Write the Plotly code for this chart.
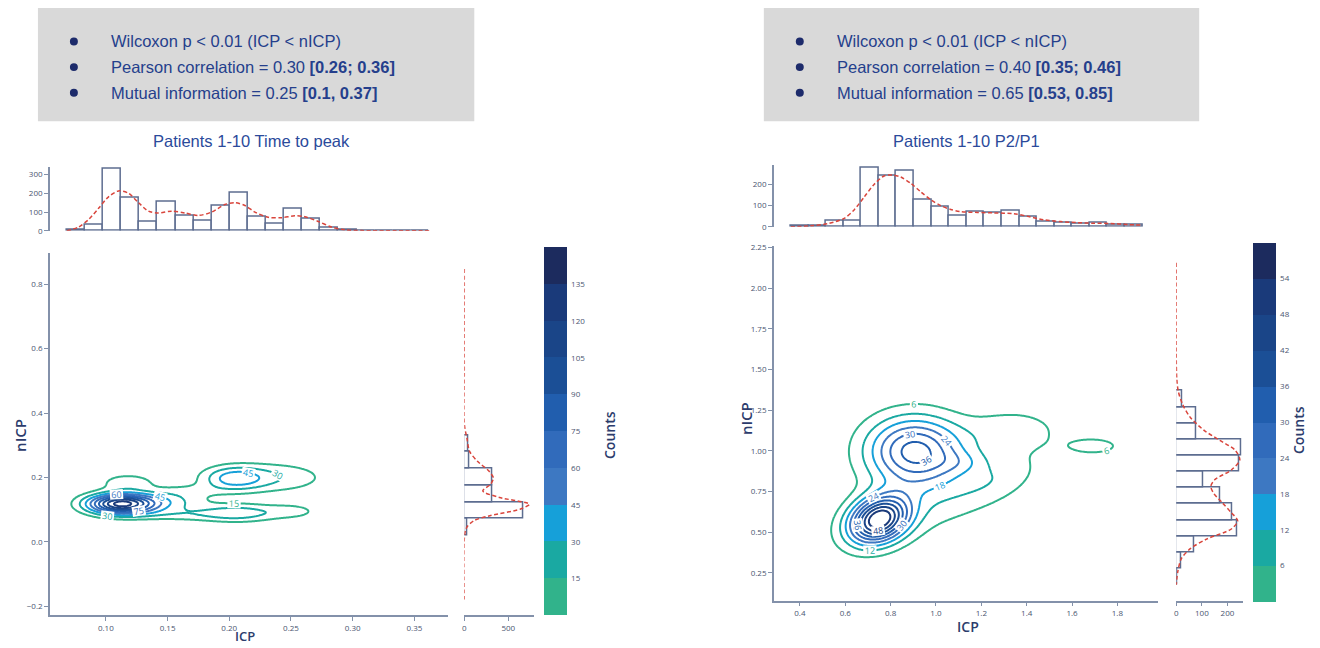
import numpy as np
import plotly.graph_objects as go

W, H = 1320, 648


def pxx(x):
    return x / W


def pxy(y):
    return 1 - y / H


# ---------------- data: left panel (Time to peak) ----------------
L_top_bin_start = 0.0684
L_top_bin_width = 0.01467
L_top_counts = [5, 32, 330, 175, 47, 153, 82, 56, 135, 205, 74, 39, 118, 65, 19, 7, 2, 1, 1, 1]
L_top_kde_x = [0.0684, 0.0779, 0.0860, 0.0941, 0.1020, 0.1103, 0.1184, 0.1265, 0.1345, 0.1426,
               0.1534, 0.1642, 0.1750, 0.1858, 0.1965, 0.2046, 0.2127, 0.2208, 0.2316, 0.2424,
               0.2531, 0.2612, 0.2721, 0.2828, 0.2936, 0.3071, 0.3624]
L_top_kde_y = [0, 20, 60, 120, 180, 213, 200, 150, 105, 95,
               105, 95, 82, 100, 140, 150, 135, 100, 72, 70,
               80, 75, 50, 20, 5, 1, 0]

L_side_bin_start = 0.020
L_side_bin_width = 0.0518
L_side_counts = [38, 674, 322, 322, 57, 49]
L_side_kde_y = [0.847, 0.526, 0.362, 0.322, 0.281, 0.250, 0.220, 0.199, 0.179, 0.158,
                0.138, 0.117, 0.102, 0.082, 0.066, 0.046, 0.025, -0.179]
L_side_kde_x = [0, 0, 2, 30, 60, 150, 280, 330, 300, 210,
                400, 740, 640, 300, 110, 30, 5, 0]

# density blobs
L_blob_cx = [0.112, 0.150, 0.203, 0.240, 0.208, 0.252, 0.118, 0.160, 0.175, 0.165]
L_blob_cy = [0.118, 0.125, 0.197, 0.200, 0.090, 0.095, 0.185, 0.085, 0.290, 0.160]
L_blob_sx = [0.019, 0.022, 0.018, 0.028, 0.022, 0.016, 0.015, 0.030, 0.005, 0.020]
L_blob_sy = [0.022, 0.022, 0.027, 0.033, 0.020, 0.017, 0.018, 0.015, 0.004, 0.015]
L_blob_peak = [136, 30, 46, 26, 36, 18, 26, 18, 16, 12]
L_blob_rho = [0, 0, 0, 0, 0, 0, 0, 0, 0, 0]
L_levels = [15, 30, 45, 60, 75, 90, 105, 120, 135]
L_cbar_ticks = [15, 30, 45, 60, 75, 90, 105, 120, 135]

# ---------------- data: right panel (P2/P1) ----------------
R_top_bin_start = 0.360
R_top_bin_width = 0.0775
R_top_counts = [3, 5, 28, 31, 279, 242, 264, 129, 95, 54, 71, 65, 74, 48, 25, 19, 16, 20, 11, 9]
R_top_kde_x = [0.360, 0.448, 0.522, 0.595, 0.639, 0.683, 0.727, 0.771, 0.808, 0.845,
               0.889, 0.933, 0.977, 1.021, 1.065, 1.109, 1.183, 1.256, 1.344, 1.403,
               1.476, 1.550, 1.623, 1.697, 1.770, 1.844, 1.910]
R_top_kde_y = [0, 5, 15, 40, 80, 140, 200, 240, 245, 235,
               205, 165, 128, 100, 82, 72, 68, 66, 62, 50,
               33, 25, 20, 17, 16, 11, 8]

R_side_bin_start = 0.177
R_side_bin_width = 0.0993
R_side_counts = [5, 18, 71, 239, 217, 171, 104, 247, 252, 78, 78, 22]
R_side_kde_y = [2.156, 1.600, 1.448, 1.367, 1.286, 1.206, 1.125, 1.065, 1.004, 0.944,
                0.883, 0.823, 0.782, 0.742, 0.681, 0.620, 0.570, 0.520, 0.459, 0.399,
                0.338, 0.257, 0.177]
R_side_kde_x = [0, 0, 2, 8, 25, 55, 110, 170, 230, 248,
                215, 150, 135, 145, 180, 215, 240, 215, 120, 55,
                20, 6, 0]

R_blob_cx = [0.748, 0.905, 1.000, 1.340, 1.120, 1.700, 1.280]
R_blob_cy = [0.578, 1.000, 0.700, 1.130, 0.930, 1.030, 0.820]
R_blob_sx = [0.090, 0.150, 0.300, 0.140, 0.080, 0.090, 0.120]
R_blob_sy = [0.100, 0.150, 0.220, 0.090, 0.050, 0.040, 0.100]
R_blob_peak = [55, 38, 8, 9, 5, 8.5, 5]
R_blob_rho = [0.25, 0.0, 0.65, 0.0, 0.0, 0.0, 0.5]
R_levels = [6, 12, 18, 24, 30, 36, 42, 48, 54]
R_cbar_ticks = [6, 12, 18, 24, 30, 36, 42, 48, 54]

# colour bands of the colour bar (bottom -> top)
band_colors = ["#31b38b", "#1aa9a2", "#16a0d9", "#3d78c2", "#316bbb",
               "#215eae", "#1b4f96", "#1a4588", "#1a3a7a", "#1c2b5e"]

# ---------------- styling ----------------
AX_COL = "#8391aa"
TICK_FONT = dict(family="Open Sans", size=8, color="#4a5570")
LABEL_COL = "#2c3c6c"
HIST_LINE = "#5d6d90"
KDE_COL = "#d9453c"
TXT_COL = "#253f8c"


def density(gx, gy, cx, cy, sx, sy, pk, rho):
    X, Y = np.meshgrid(gx, gy)
    Z = np.zeros_like(X)
    for a, b, s1, s2, p, r in zip(cx, cy, sx, sy, pk, rho):
        dx = (X - a) / s1
        dy = (Y - b) / s2
        q = (dx * dx + dy * dy - 2 * r * dx * dy) / (1 - r * r)
        Z += p * np.exp(-0.5 * q)
    return Z


def line_scale(n):
    cols = band_colors[:n]
    return [[i / (n - 1), c] for i, c in enumerate(cols)]


def stepped_scale():
    sc = []
    n = len(band_colors)
    for i, c in enumerate(band_colors):
        sc.append([i / n, c])
        sc.append([(i + 1) / n, c])
    return sc


fig = go.Figure()
KDE_LINE = dict(color=KDE_COL, width=1.5, dash="4px,2.5px", shape="spline", smoothing=0.8)


def add_panel(fig, k, P):
    a, b, c = 3 * k + 1, 3 * k + 2, 3 * k + 3
    xa, ya = ("x", "y") if a == 1 else (f"x{a}", f"y{a}")
    xb, yb = f"x{b}", f"y{b}"
    xc, yc = f"x{c}", f"y{c}"

    gx = np.linspace(P["xr"][0], P["xr"][1], 300)
    gy = np.linspace(P["yr"][0], P["yr"][1], 300)
    Z = density(gx, gy, *P["blobs"])
    lv = P["levels"]
    fig.add_trace(go.Contour(
        x=gx, y=gy, z=Z, xaxis=xa, yaxis=ya,
        contours=dict(start=lv[0], end=lv[-1], size=lv[1] - lv[0], coloring="lines",
                      showlabels=True, labelfont=dict(family="Open Sans", size=9)),
        line=dict(width=2), colorscale=line_scale(len(lv)), showscale=False,
        hoverinfo="skip"))

    tc = P["top_counts"]
    centers = [P["top_start"] + (i + 0.5) * P["top_w"] for i in range(len(tc))]
    fig.add_trace(go.Bar(x=centers, y=tc, width=P["top_w"], xaxis=xb, yaxis=yb,
                         marker=dict(color="white", line=dict(color=HIST_LINE, width=1.5))))
    fig.add_trace(go.Scatter(x=P["top_kx"], y=P["top_ky"], xaxis=xb, yaxis=yb, mode="lines",
                             line=KDE_LINE))
    sc = P["side_counts"]
    scent = [P["side_start"] + (i + 0.5) * P["side_w"] for i in range(len(sc))]
    fig.add_trace(go.Bar(y=scent, x=sc, width=P["side_w"], orientation="h", xaxis=xc, yaxis=yc,
                         marker=dict(color="white", line=dict(color=HIST_LINE, width=1.5))))
    fig.add_trace(go.Scatter(x=P["side_kx"], y=P["side_ky"], xaxis=xc, yaxis=yc, mode="lines",
                             line=KDE_LINE))
    fig.add_trace(go.Scatter(
        x=[None], y=[None], xaxis=xa, yaxis=ya, mode="markers",
        marker=dict(color=[0], cmin=0, cmax=P["cmax"], colorscale=stepped_scale(), showscale=True,
                    colorbar=dict(x=pxx(P["cb_x"]), xanchor="left", y=pxy(P["cb_y1"]), yanchor="bottom",
                                  len=P["cb_y1"] - P["cb_y0"], lenmode="pixels",
                                  thickness=23, thicknessmode="pixels", outlinewidth=0,
                                  xpad=0, ypad=0, tickvals=P["cb_ticks"], ticks="outside",
                                  ticklen=3, tickcolor="rgba(0,0,0,0)",
                                  tickfont=dict(family="Open Sans", size=8, color="#4a5570"))),
        hoverinfo="skip"))

    common = dict(showgrid=False, zeroline=False, linecolor=AX_COL, linewidth=1.5,
                  ticks="outside", ticklen=4, tickcolor=AX_COL, tickfont=TICK_FONT)
    main_xdom = [pxx(P["mx0"]), pxx(P["mx1"])]
    main_ydom = [pxy(P["my1"]), pxy(P["my0"])]
    side_xdom = [pxx(P["sx0"]), pxx(P["sx1"])]
    top_ydom = [pxy(P["ty1"]), pxy(P["ty0"])]
    fig.layout[("xaxis" if a == 1 else f"xaxis{a}")] = dict(
        domain=main_xdom, range=P["xr"], anchor=ya, showline=True, tickvals=P["xticks"],
        tickformat=P["xfmt"], **common)
    fig.layout[("yaxis" if a == 1 else f"yaxis{a}")] = dict(
        domain=main_ydom, range=P["yr"], anchor=xa, showline=True, tickvals=P["yticks"],
        tickformat=P["yfmt"], **common)
    fig.layout[f"xaxis{b}"] = dict(domain=main_xdom, range=P["xr"], anchor=yb, visible=False)
    fig.layout[f"yaxis{b}"] = dict(domain=top_ydom, range=[0, P["top_max"]], anchor=xb, showline=True,
                                   tickvals=P["top_ticks"], **common)
    fig.layout[f"xaxis{c}"] = dict(domain=side_xdom, range=[0, P["side_max"]], anchor=yc, showline=True,
                                   tickvals=P["side_ticks"], **common)
    fig.layout[f"yaxis{c}"] = dict(domain=main_ydom, range=P["yr"], anchor=xc, visible=False)


panels = [
    dict(xr=[0.0547, 0.3775], yr=[-0.228, 0.898], blobs=(L_blob_cx, L_blob_cy, L_blob_sx, L_blob_sy,
                                                        L_blob_peak, L_blob_rho),
         levels=L_levels, top_counts=L_top_counts, top_start=L_top_bin_start, top_w=L_top_bin_width,
         top_kx=L_top_kde_x, top_ky=L_top_kde_y, side_counts=L_side_counts, side_start=L_side_bin_start,
         side_w=L_side_bin_width, side_kx=L_side_kde_x, side_ky=L_side_kde_y, cmax=150,
         cb_x=543, cb_y0=252, cb_y1=620, cb_ticks=L_cbar_ticks,
         mx0=48, mx1=447, my0=252, my1=620, sx0=463, sx1=533, ty0=165, ty1=230,
         xticks=[0.10, 0.15, 0.20, 0.25, 0.30, 0.35], xfmt=".2f",
         yticks=[-0.2, 0.0, 0.2, 0.4, 0.6, 0.8], yfmt=".1f",
         top_max=342, top_ticks=[0, 100, 200, 300], side_max=795, side_ticks=[0, 500]),
    dict(xr=[0.285, 1.98], yr=[0.08, 2.262], blobs=(R_blob_cx, R_blob_cy, R_blob_sx, R_blob_sy,
                                                    R_blob_peak, R_blob_rho),
         levels=R_levels, top_counts=R_top_counts, top_start=R_top_bin_start, top_w=R_top_bin_width,
         top_kx=R_top_kde_x, top_ky=R_top_kde_y, side_counts=R_side_counts, side_start=R_side_bin_start,
         side_w=R_side_bin_width, side_kx=R_side_kde_x, side_ky=R_side_kde_y, cmax=60,
         cb_x=1253, cb_y0=247, cb_y1=606, cb_ticks=R_cbar_ticks,
         mx0=773, mx1=1158, my0=245, my1=605, sx0=1176, sx1=1243, ty0=163, ty1=226,
         xticks=[0.4, 0.6, 0.8, 1.0, 1.2, 1.4, 1.6, 1.8], xfmt=".1f",
         yticks=[0.25, 0.5, 0.75, 1.0, 1.25, 1.5, 1.75, 2.0, 2.25], yfmt=".2f",
         top_max=293, top_ticks=[0, 100, 200], side_max=261, side_ticks=[0, 100, 200]),
]
for k, P in enumerate(panels):
    add_panel(fig, k, P)

# ---------------- header boxes and text ----------------
headers = [
    dict(box=(36, 473), bx=72, tx=107, title_x=250, title="Patients 1-10 Time to peak",
         lines=["Wilcoxon p < 0.01 (ICP < nICP)",
                "Pearson correlation = 0.30 <b>[0.26; 0.36]</b>",
                "Mutual information = 0.25 <b>[0.1, 0.37]</b>"]),
    dict(box=(763, 1199), bx=799, tx=834, title_x=966, title="Patients 1-10 P2/P1",
         lines=["Wilcoxon p < 0.01 (ICP < nICP)",
                "Pearson correlation = 0.40 <b>[0.35; 0.46]</b>",
                "Mutual information = 0.65 <b>[0.53, 0.85]</b>"]),
]
line_y = [38, 64, 90]
annotations = []
shapes = []
for hd in headers:
    shapes.append(dict(type="rect", xref="paper", yref="paper", x0=pxx(hd["box"][0]), x1=pxx(hd["box"][1]),
                       y0=pxy(119), y1=pxy(4), fillcolor="#d9d9d9", line=dict(width=0), layer="below"))
    for t, yy in zip(hd["lines"], line_y):
        shapes.append(dict(type="circle", xref="paper", yref="paper",
                           x0=pxx(hd["bx"] - 4), x1=pxx(hd["bx"] + 4), y0=pxy(yy + 4), y1=pxy(yy - 4),
                           fillcolor="#1d2b6b", line=dict(width=0)))
        annotations.append(dict(xref="paper", yref="paper", x=pxx(hd["tx"]), y=pxy(yy), text=t,
                                showarrow=False, xanchor="left", yanchor="middle",
                                font=dict(family="Liberation Sans", size=16.5, color=TXT_COL)))
    annotations.append(dict(xref="paper", yref="paper", x=pxx(hd["title_x"]), y=pxy(139), text=hd["title"],
                            showarrow=False, xanchor="center", yanchor="middle",
                            font=dict(family="Liberation Sans", size=16.5, color="#2b4a9b")))

# axis titles and colour-bar titles
for (tx, ty, txt, ang, fs) in [(18, 437, "nICP", -90, 15), (243, 641, "ICP", 0, 13),
                               (745, 420, "nICP", -90, 15), (967, 631, "ICP", 0, 14),
                               (609, 437, "Counts", -90, 14), (1298, 432, "Counts", -90, 14)]:
    annotations.append(dict(xref="paper", yref="paper", x=pxx(tx), y=pxy(ty), text=txt, textangle=ang,
                            showarrow=False, xanchor="center", yanchor="middle", borderpad=0,
                            font=dict(family="Open Sans", size=fs, color=LABEL_COL, weight=600)))

fig.update_layout(width=W, height=H, margin=dict(l=0, r=0, t=0, b=0), showlegend=False,
                  plot_bgcolor="white", paper_bgcolor="white", bargap=0,
                  annotations=annotations, shapes=shapes)

fig.write_html("out.html", config={"displayModeBar": False},
               post_script="document.body.style.margin='0px';document.body.style.overflow='hidden';")
